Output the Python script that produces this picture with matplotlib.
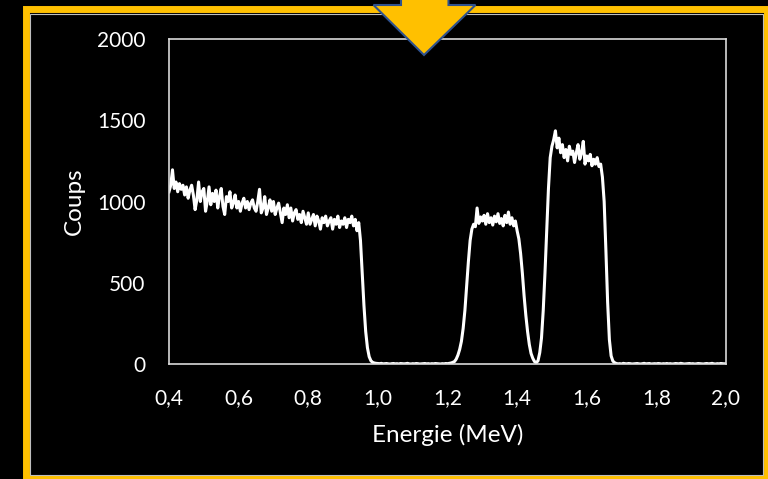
import numpy as np
import matplotlib
matplotlib.use("Agg")
import matplotlib.pyplot as plt
from matplotlib.patches import Polygon, Rectangle
from matplotlib.ticker import FuncFormatter

# ─────────────────────────────────────────────────────────────────────────────
# Data  (spectrum, one point every 0.005 MeV)
# ─────────────────────────────────────────────────────────────────────────────
energy_start = 0.400
energy_step  = 0.005

counts_compton = [
    1060, 1100, 1195, 1080, 1120, 1060, 1110, 1075, 1100, 1040,
    1090, 1020, 1070, 1100, 1040,  950, 1010, 1120, 1000, 1060,
    1080,  940, 1000, 1090,  980, 1050, 1000, 1070,  960, 1030,
    1080,  970,  920, 1030, 1000, 1060,  960,  990, 1040,  960,
    1000,  940,  990, 1020,  960, 1000,  950,  990, 1010,  960,
     940, 1000, 1075,  930,  960, 1030,  920,  960, 1010,  940,
    1000,  920,  960,  990,  930,  870,  960,  920,  980,  900,
     960,  880,  930,  950,  890,  920,  870,  940,  900,  860,
     930,  860,  890,  920,  850,  910,  880,  830,  900,  870,
     910,  850,  880,  900,  830,  890,  860,  910,  840,  880,
     860,  900,  840,  890,  870,  910,  850,  890,  820,  870,
     760,  560,  360,  200,  100,   45,   20,   10,    6,    4,
]
counts_gap = [
    3, 2, 4, 1, 2, 3, 1, 0, 2, 3, 1, 2, 0, 3, 2, 1, 2, 4, 1, 0, 2, 1,
    3, 2, 0, 1, 2, 3, 1, 2, 0, 2, 1, 3, 2, 1, 0, 2, 1, 3, 2, 4, 6, 10,
]
counts_peak1 = [
     15,   30,   55,   90,  140,  220,  330,  480,  630,  760,
    830,  860,  845,  960,  865,  905,  880,  915,  860,  925,
    870,  900,  855,  910,  875,  925,  865,  895,  850,  915,
    870,  935,  860,  900,  850,  880,  820,  770,  680,  560,
    420,  300,  200,  120,   65,   35,   15,    8,
]
counts_peak2 = [
      20,   70,  160,  330,  560,  820, 1080, 1270, 1340, 1380,
    1435, 1330, 1390, 1300, 1350, 1270, 1320, 1250, 1340, 1290,
    1310, 1240, 1300, 1350, 1260, 1300, 1370, 1230, 1280, 1250,
    1290, 1220, 1260, 1230, 1270, 1215, 1230, 1150, 1000,  700,
     380,  150,   50,   18,    8,
]
counts_tail = [
    3, 1, 2, 0, 4, 2, 1, 3, 2, 0, 1, 2, 3, 1, 0, 2, 4, 1, 2, 3, 0, 1,
    2, 1, 3, 2, 0, 2, 1, 3, 1, 2, 0, 1, 3, 2, 1, 4, 2, 0, 1, 2, 3, 1,
    2, 0, 1, 3, 2, 1, 0, 2, 3, 1, 2, 4, 1, 0, 2, 1, 3, 2, 1, 2,
]

x_ticks = [0.4, 0.6, 0.8, 1.0, 1.2, 1.4, 1.6, 1.8, 2.0]
y_ticks = [0, 500, 1000, 1500, 2000]

counts = np.array(counts_compton + counts_gap + counts_peak1 + counts_peak2 + counts_tail)
energy = energy_start + energy_step * np.arange(len(counts))

# ─────────────────────────────────────────────────────────────────────────────
# Figure
# ─────────────────────────────────────────────────────────────────────────────
W, H = 768, 479
GOLD = "#FFC000"
FRAME = "#D9D9D9"

plt.rcParams["font.family"] = ["Lato", "DejaVu Sans"]

fig = plt.figure(figsize=(W / 100, H / 100), dpi=100, facecolor="black")
ax = fig.add_axes([169 / W, 1 - 364 / H, (726 - 169) / W, (364 - 39) / H])
ax.set_facecolor("black")

ax.plot(energy, counts, color="white", linewidth=2.2, solid_joinstyle="round")

ax.set_xlim(0.4, 2.0)
ax.set_ylim(0, 2000)
ax.set_xticks(x_ticks)
ax.set_yticks(y_ticks)
ax.xaxis.set_major_formatter(FuncFormatter(lambda v, p: f"{v:.1f}".replace(".", ",")))
ax.tick_params(length=0, labelsize=15, colors="white")
ax.tick_params(axis="y", pad=17)
ax.tick_params(axis="x", pad=17)
for s in ax.spines.values():
    s.set_color(FRAME)
    s.set_linewidth(1.2)

ax.set_xlabel("Energie (MeV)", color="white", fontsize=17.5, labelpad=12)
ax.set_ylabel("Coups", color="white", fontsize=17.5, labelpad=9)


def px(x, y):
    return (x / W, 1 - y / H)


# gold frame and thin inner line
fig.patches.append(Rectangle(px(25.5, 478), (767 - 25.5) / W, (478 - 9) / H,
                             transform=fig.transFigure, fill=False,
                             edgecolor=GOLD, linewidth=5.0, zorder=5))
fig.patches.append(Rectangle(px(30, 475), (762.5 - 30) / W, (475 - 14) / H,
                             transform=fig.transFigure, fill=False,
                             edgecolor="#BFBFBF", linewidth=0.8, zorder=5))

# down arrow at top
arrow = [px(401, -10), px(448.5, -10), px(448.5, 5), px(475.5, 5),
         px(424, 55), px(373.5, 5), px(401, 5)]
fig.patches.append(Polygon(arrow, closed=True, transform=fig.transFigure,
                           facecolor=GOLD, edgecolor="#2F528F",
                           linewidth=1.5, zorder=6))

fig.savefig("out.png", dpi=100, facecolor="black")
plt.close(fig)
